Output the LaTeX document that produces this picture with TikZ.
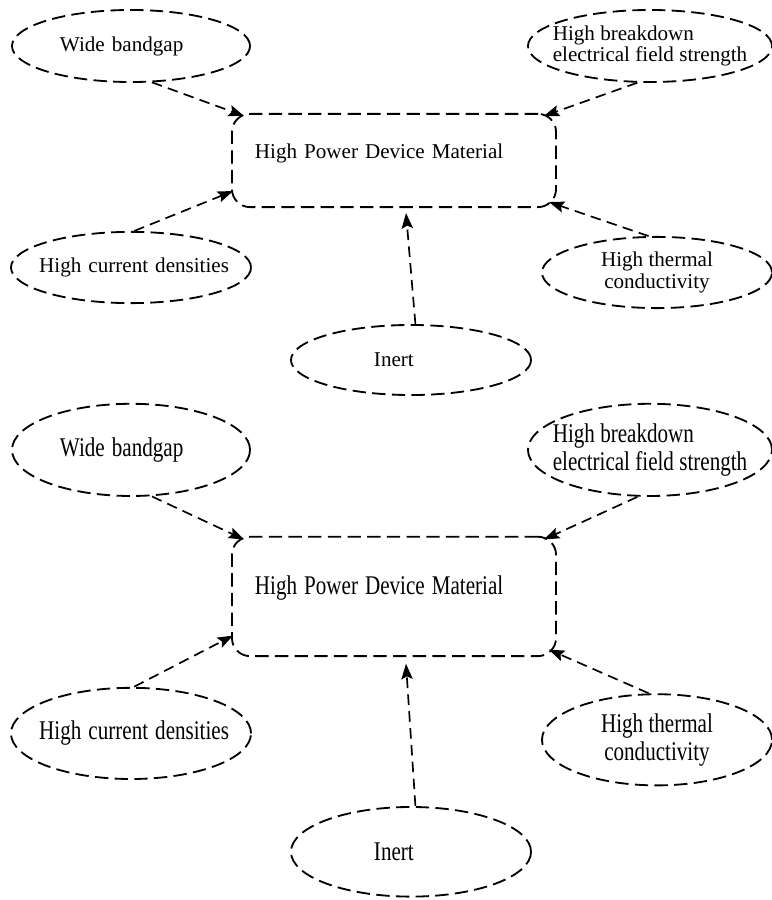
\documentclass[tikz,border=0pt]{standalone}
\usepackage{fontspec}
\setmainfont{Liberation Serif}
\usetikzlibrary{shapes.geometric,arrows.meta}

\begin{document}
\begin{tikzpicture}[x=0.025cm,y=-0.025cm]
\tikzstyle{bubble}=[draw,ellipse,line width=1.3pt,dash pattern=on 9.5pt off 4.5pt,inner xsep=-0.5cm,inner ysep=0pt,font=\fontsize{15}{15.5}\selectfont]
\tikzstyle{hub}=[draw,rectangle,rounded corners=0.45cm,line width=1.3pt,dash pattern=on 9.5pt off 4.5pt,font=\fontsize{15}{15.5}\selectfont]
\tikzstyle{feed}=[-{Stealth[length=11pt,width=8pt,inset=2pt]},line width=1.2pt,dash pattern=on 7.5pt off 4.5pt]
\useasboundingbox (0,0) rectangle (771,900);
% same map twice, the lower one stretched upright
\foreach \k/\dy/\sy in {a/0/1,b/391/1.28}{
\begin{scope}[shift={(0,\dy)},yscale=\sy,transform shape]
\node (\k-main) [hub,minimum width=8.1cm,minimum height=2.33cm,text width=6.95cm,align=left,text depth=13pt] at (394,160.5) {High Power Device Material};
\node (\k-wide) [bubble,minimum width=5.95cm,minimum height=1.8cm,text width=3.55cm,align=left] at (131,46) {Wide bandgap};
\node (\k-break) [bubble,minimum width=6.1cm,minimum height=1.8cm,align=left] at (650,46) {High breakdown\\electrical field strength};
\node (\k-current) [bubble,minimum width=6cm,minimum height=1.78cm,text width=4.9cm,align=right] at (131,267.5) {High current densities};
\node (\k-thermal) [bubble,minimum width=5.75cm,minimum height=1.78cm,align=center] at (657,272.5) {High thermal\\conductivity};
\node (\k-inert) [bubble,minimum width=6cm,minimum height=1.75cm,text width=1.85cm,align=left] at (411,360) {Inert};
\draw[feed] (\k-wide.-60) -- ([shift={(13,3)}]\k-main.north west);
\draw[feed] (\k-break.-109) -- ([shift={(-13,3)}]\k-main.north east);
\draw[feed] (\k-current.85) -- ([shift={(2,-17)}]\k-main.south west);
\draw[feed] (\k-thermal.103) -- ([shift={(-8,-6)}]\k-main.south east);
\draw[feed] (\k-inert.83) -- ([shift={(12,5)}]\k-main.south);
\end{scope}
}
\end{tikzpicture}
\end{document}
